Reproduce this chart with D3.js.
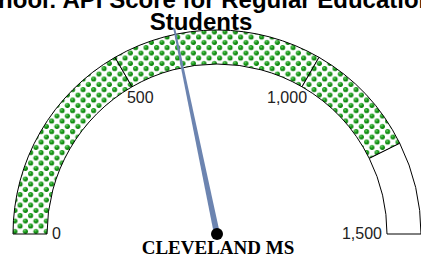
<!DOCTYPE html>
<html lang="en">
<head>
<meta charset="UTF-8">
<script src="https://d3js.org/d3.v7.min.js"></script>
<title>Gauge</title>
<style>
    body { margin: 0; background: #fff; }
    svg { display: block; }
</style>
</head>
<body>
<svg id="gauge" width="421" height="255"></svg>
<script>
    // chart values
    var titleLines = ["School: API Score for Regular Education", "Students"];
    var schoolName = "CLEVELAND MS";
    var scaleTicks = [0, 500, 1000, 1500];
    var bandStops = [0, 500, 1000, 1280, 1500];
    var bandFilled = [true, true, true, false];
    var needleValue = 652;

    var svg = d3.select("#gauge");
    var cx = 217, cy = 234, rOuter = 204, rInner = 170;

    var angle = d3.scaleLinear()
        .domain([scaleTicks[0], scaleTicks[scaleTicks.length - 1]])
        .range([-Math.PI / 2, Math.PI / 2]);

    // dotted green pattern
    var defs = svg.append("defs");
    var grad = defs.append("radialGradient")
        .attr("id", "dotGrad")
        .attr("cx", "40%").attr("cy", "35%").attr("r", "65%");
    grad.append("stop").attr("offset", "0%").attr("stop-color", "#7fd87f");
    grad.append("stop").attr("offset", "40%").attr("stop-color", "#1d9e1d");
    grad.append("stop").attr("offset", "100%").attr("stop-color", "#067806");

    var pat = defs.append("pattern")
        .attr("id", "dots")
        .attr("patternUnits", "userSpaceOnUse")
        .attr("width", 10.5).attr("height", 10.5);
    pat.append("rect").attr("width", 10.5).attr("height", 10.5).attr("fill", "#fff");
    pat.selectAll("circle")
        .data([[2.6, 2.6], [7.9, 7.9]])
        .join("circle")
        .attr("cx", d => d[0]).attr("cy", d => d[1])
        .attr("r", 2.5)
        .attr("fill", "url(#dotGrad)");

    var g = svg.append("g").attr("transform", `translate(${cx},${cy})`);

    var arc = d3.arc().innerRadius(rInner).outerRadius(rOuter);

    var bands = d3.range(bandStops.length - 1).map(i => ({
        from: bandStops[i], to: bandStops[i + 1], filled: bandFilled[i]
    }));

    g.selectAll(".band")
        .data(bands)
        .join("path")
        .attr("class", "band")
        .attr("d", d => arc({ startAngle: angle(d.from), endAngle: angle(d.to) }))
        .attr("fill", d => d.filled ? "url(#dots)" : "#fff")
        .attr("stroke", "#000")
        .attr("stroke-width", 1);

    // tick labels
    g.selectAll(".tick")
        .data(scaleTicks)
        .join("text")
        .attr("class", "tick")
        .each(function (v) {
            var a = angle(v);
            var s = Math.sign(Math.sin(a));
            var r = 165;
            var x = r * Math.sin(a) + s * 8.7 * Math.cos(a);
            var y = -r * Math.cos(a) + 5 + 8 * Math.cos(a);
            d3.select(this)
                .attr("x", x)
                .attr("y", y)
                .attr("text-anchor", s < 0 ? "start" : (s > 0 ? "end" : "middle"));
        })
        .attr("font-family", "'Liberation Sans', Arial, sans-serif")
        .attr("font-size", 16)
        .attr("fill", "#222")
        .text(d => d3.format(",")(d));

    // needle
    var na = angle(needleValue);
    var len = rOuter + 6;
    var nx = Math.sin(na), ny = -Math.cos(na);
    var px = -ny, py = nx;
    var wBase = 3, wTip = 1;
    var needlePts = [
        [px * wBase, py * wBase],
        [nx * len + px * wTip, ny * len + py * wTip],
        [nx * len - px * wTip, ny * len - py * wTip],
        [-px * wBase, -py * wBase]
    ];
    g.append("path")
        .attr("d", d3.line()(needlePts) + "Z")
        .attr("fill", "#6c84b0");

    g.append("circle")
        .attr("r", 6)
        .attr("fill", "#000");

    g.append("text")
        .attr("x", 1)
        .attr("y", 20)
        .attr("text-anchor", "middle")
        .attr("font-family", "'Liberation Serif', 'Times New Roman', serif")
        .attr("font-weight", "bold")
        .attr("font-size", 19)
        .text(schoolName);

    // title
    svg.append("g")
        .selectAll("text")
        .data(titleLines)
        .join("text")
        .attr("x", 201)
        .attr("y", (d, i) => 7.5 + i * 22)
        .attr("text-anchor", "middle")
        .attr("font-family", "'Liberation Sans', Arial, sans-serif")
        .attr("font-weight", "bold")
        .attr("font-size", 24)
        .attr("fill", "#000")
        .text(d => d);
</script>
</body>
</html>
